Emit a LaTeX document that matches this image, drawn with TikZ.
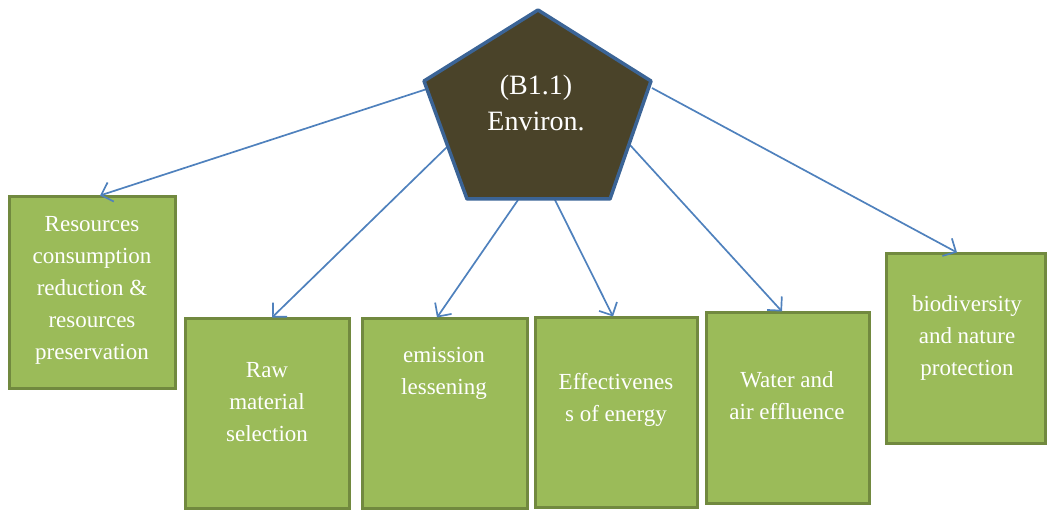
\documentclass[tikz,border=0pt]{standalone}
\usepackage{fontspec}
\setmainfont{Liberation Serif}
\usetikzlibrary{arrows.meta,calc}

\definecolor{boxfill}{HTML}{9BBB59}
\definecolor{boxedge}{HTML}{71893F}
\definecolor{pentfill}{HTML}{4A4329}
\definecolor{pentedge}{HTML}{3B6496}
\definecolor{linkcol}{HTML}{4F81BD}

\tikzset{
  greenbox/.style={draw=boxedge, fill=boxfill, line width=3pt, inner sep=0pt},
  boxtext/.style={text=white, align=center, inner sep=0pt,
    font=\fontsize{23}{32}\selectfont},
  link/.style={draw=linkcol, line width=1.7pt,
    -{Straight Barb[length=10pt,width=20pt,line width=1.7pt]}},
}

\begin{document}
\begin{tikzpicture}[x=1pt,y=-1pt]
\useasboundingbox (0,0) rectangle (1047,510);

% green boxes
\node[greenbox] (b1) at (92,293) [minimum width=166pt, minimum height=192pt] {};
\node[greenbox] (b2) at (267,413.5) [minimum width=164pt, minimum height=189pt] {};
\node[greenbox] (b3) at (444.5,413.5) [minimum width=165pt, minimum height=189pt] {};
\node[greenbox] (b4) at (616,412.5) [minimum width=162pt, minimum height=189pt] {};
\node[greenbox] (b5) at (787.5,408) [minimum width=163pt, minimum height=190pt] {};
\node[greenbox] (b6) at (965.5,348.5) [minimum width=159pt, minimum height=189pt] {};

% box labels
\node[boxtext] (t1) at (92,290) {Resources\\consumption\\reduction \&\\resources\\preservation};
\node[boxtext] (t2) at (267,402) {Raw\\material\\selection};
\node[boxtext] (t3) at (444,373) {emission\\lessening};
\node[boxtext] (t4) at (616,400) {Effectivenes\\s of energy};
\node[boxtext] (t5) at (787,396) {Water and\\air effluence};
\node[boxtext] (t6) at (967,338) {biodiversity\\and nature\\protection};

% pentagon corners
\coordinate (pT)  at (538,10);
\coordinate (pL)  at (424,81);
\coordinate (pR)  at (651,81);
\coordinate (pBL) at (467,199);
\coordinate (pBR) at (610,199);

% connector start points on the pentagon rim
\coordinate (s1) at (427,89);
\coordinate (s2) at (447,147);
\coordinate (s3) at (518,200);
\coordinate (s4) at (555,200);
\coordinate (s5) at (630,145);
\coordinate (s6) at (652,88);

% connectors
\draw[link] (s1) -- ([xshift=8pt]b1.north);
\draw[link] (s2) -- ([xshift=5pt]b2.north);
\draw[link] (s3) -- ([xshift=-7.5pt]b3.north);
\draw[link] (s4) -- ([xshift=-3pt]b4.north);
\draw[link] (s5) -- ([xshift=-5.5pt]b5.north);
\draw[link] (s6) -- ([xshift=-8.5pt]b6.north);

% central pentagon
\filldraw[fill=pentfill, draw=pentedge, line width=3.5pt, line join=round]
  (pT) -- (pR) -- (pBR) -- (pBL) -- (pL) -- cycle;
\node[text=white, align=center, inner sep=0pt,
  font=\fontsize{28}{36}\selectfont] (pent) at (536,103) {(B1.1)\\Environ.};

\end{tikzpicture}
\end{document}
